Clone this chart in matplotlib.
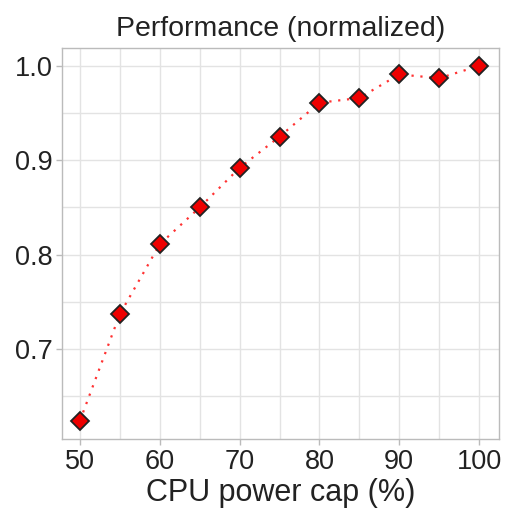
import matplotlib
matplotlib.use("Agg")
import matplotlib.pyplot as plt
from matplotlib.ticker import MultipleLocator

plt.rcParams['font.family'] = ['Liberation Sans', 'DejaVu Sans']

power_cap = [50, 55, 60, 65, 70, 75, 80, 85, 90, 95, 100]
performance = [0.624, 0.737, 0.811, 0.850, 0.892, 0.925, 0.961, 0.966, 0.991, 0.987, 1.000]
x_ticks = [50, 60, 70, 80, 90, 100]
y_ticks = [0.7, 0.8, 0.9, 1.0]

fig = plt.figure(figsize=(5.05, 5.16), dpi=100)
ax = fig.add_axes([62 / 505, 1 - 439 / 516, (499 - 62) / 505, (439 - 48) / 516])

ax.plot(power_cap, performance, linestyle=(0, (1, 3)), color='#ff3333', linewidth=1.6,
        marker='D', markersize=9, markerfacecolor='#ee0000',
        markeredgecolor='#222222', markeredgewidth=1.3, zorder=3)

ax.set_xlim(47.75, 102.5)
ax.set_ylim(0.6046, 1.019)
ax.set_xticks(x_ticks)
ax.set_yticks(y_ticks)
ax.set_yticklabels([f"{v:.1f}" for v in y_ticks])
ax.xaxis.set_minor_locator(MultipleLocator(5))
ax.yaxis.set_minor_locator(MultipleLocator(0.05))
ax.grid(True, which='both', color='#e3e3e3', linewidth=1.0, zorder=0)
ax.set_axisbelow(True)

for s in ax.spines.values():
    s.set_color('#bbbbbb')
    s.set_linewidth(1.0)

ax.tick_params(axis='both', which='major', labelsize=19.5, colors='#bbbbbb',
               labelcolor='#222222', length=4, width=1.0, pad=3)
ax.tick_params(axis='both', which='minor', length=0)

ax.set_title("Performance (normalized)", fontsize=20.5, color='#222222', pad=9)
ax.set_xlabel("CPU power cap (%)", fontsize=22, color='#222222', labelpad=2)

fig.savefig("out.png", dpi=100)
